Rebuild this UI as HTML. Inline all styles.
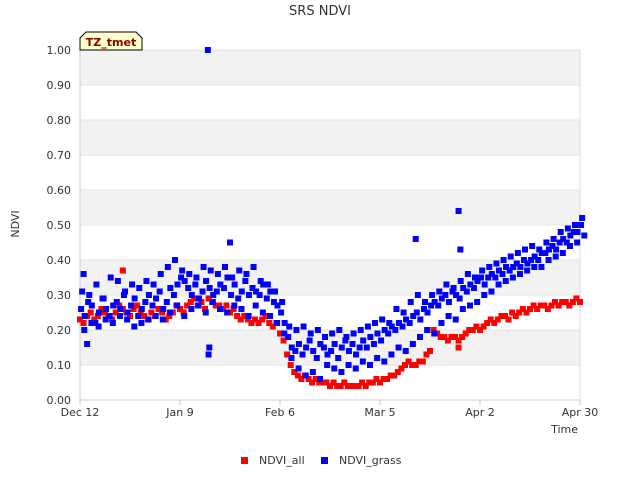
<!DOCTYPE html>
<html><head><meta charset="utf-8"><style>
body{margin:0;background:#fff;font-family:"Liberation Sans","DejaVu Sans",sans-serif}
svg text{font-family:"DejaVu Sans","Liberation Sans",sans-serif}
</style></head><body>
<svg id="chart" width="640" height="480">
<text x="320" y="15" text-anchor="middle" font-size="13" fill="#333">SRS NDVI</text>
<g id="bands"></g><g id="axes"></g><g id="marks"></g>
<text x="19" y="224" text-anchor="middle" font-size="11" fill="#333" transform="rotate(-90 19 224)">NDVI</text>
<text x="578" y="433" text-anchor="end" font-size="11" fill="#333">Time</text>
<g>
<path d="M80,50 L80,38 L86,32 L136,32 L142,38 L142,50 Z" fill="#ffffcc" stroke="#000" stroke-width="1"/>
<text x="111" y="46" text-anchor="middle" font-size="11" font-weight="bold" fill="#8b0000">TZ_tmet</text></g>
<g>
<g><rect x="241" y="457" width="7" height="7" fill="#ff0000"/><text x="259" y="464" font-size="11" fill="#333">NDVI_all</text></g>
<g><rect x="321" y="457" width="7" height="7" fill="#0000ff"/><text x="339" y="464" font-size="11" fill="#333">NDVI_grass</text></g>
</g>
</svg>
<script>
const xTickLabels=["Dec 12","Jan 9","Feb 6","Mar 5","Apr 2","Apr 30"];
const xTickDays=[0,28,56,84,112,140];
const yTicks=[0,0.1,0.2,0.3,0.4,0.5,0.6,0.7,0.8,0.9,1.0];
const allDaily=[.23,.22,.24,.25,.23,.24,.26,.25,.24,.23,.25,.27,.26,.25,.24,.26,.27,.25,.24,.23,.25,.24,.26,.25,.23,.24,.25,.27,.26,.25,.27,.28,.29,.27,.28,.26,.29,.28,.27,.27,.26,.27,.25,.26,.24,.23,.24,.23,.22,.23,.22,.23,.24,.22,.21,.22,.19,.17,.13,.10,.08,.07,.06,.07,.06,.05,.06,.05,.05,.05,.04,.05,.04,.04,.05,.04,.04,.04,.04,.05,.04,.05,.05,.06,.05,.06,.06,.07,.07,.08,.09,.10,.11,.10,.10,.11,.11,.13,.14,.20,.19,.18,.18,.17,.18,.18,.17,.18,.19,.20,.20,.21,.20,.21,.22,.23,.22,.23,.24,.24,.23,.25,.24,.25,.26,.25,.26,.27,.26,.27,.27,.26,.27,.28,.27,.28,.28,.27,.28,.29,.28];
const grassMid=[.26,.24,.28,.27,.22,.25,.29,.26,.24,.27,.28,.26,.30,.25,.27,.29,.24,.26,.28,.30,.27,.29,.31,.26,.28,.32,.30,.33,.35,.34,.32,.30,.33,.29,.31,.34,.32,.30,.31,.33,.32,.35,.30,.33,.29,.31,.34,.30,.32,.31,.30,.33,.29,.31,.28,.27,.25,.22,.18,.15,.14,.16,.13,.15,.17,.14,.12,.16,.15,.13,.14,.16,.12,.15,.17,.14,.16,.13,.15,.17,.15,.18,.16,.19,.17,.20,.19,.21,.20,.22,.21,.23,.22,.24,.25,.23,.26,.25,.27,.28,.27,.29,.30,.28,.31,.30,.29,.32,.31,.33,.32,.34,.35,.33,.35,.36,.35,.37,.36,.38,.37,.38,.39,.38,.40,.39,.40,.41,.40,.42,.42,.43,.44,.43,.45,.46,.45,.47,.48,.48,.50];
const grassHi2=[.31,.30,.33,.29,.35,.34,.31,.33,.32,.34,.33,.36,.38,.40,.37,.36,.35,.38,.37,.36,.38,.35,.37,.36,.38,.34,.33,.31,.28,.21,.20,.21,.19,.20,.18,.19,.20,.18,.19,.20,.21,.22,.23,.22,.26,.25,.28,.30,.28,.30,.31,.33,.32,.34,.36,.35,.37,.38,.39,.40,.41,.42,.43,.44,.43,.45,.46,.48,.49,.50,.52];
const grassLo2=[.20,.22,.21,.23,.22,.24,.23,.21,.22,.23,.24,.23,.25,.27,.24,.26,.27,.25,.28,.26,.25,.27,.26,.24,.27,.25,.24,.22,.19,.12,.09,.07,.08,.06,.10,.09,.08,.10,.09,.11,.10,.12,.11,.13,.15,.14,.16,.18,.20,.19,.22,.24,.23,.26,.27,.28,.30,.31,.33,.34,.35,.36,.37,.38,.38,.40,.41,.42,.44,.45,.47];
const grassOutDays=[35.8,36,36.2,42,94,106,106.5,1,2];
const grassOutVals=[1.00,0.13,0.15,0.45,0.46,0.54,0.43,0.36,0.16];
const allOutDays=[12,106];
const allOutVals=[0.37,0.15];
const NS="http://www.w3.org/2000/svg";
const X0=80,X1=580,Y0=400,Y1=50;
const xs=d=>X0+d*(X1-X0)/140;
const ys=v=>Y0-v*(Y0-Y1);
function mk(t,a,p){const e=document.createElementNS(NS,t);for(const k in a)e.setAttribute(k,a[k]);p.appendChild(e);return e;}
const bands=document.getElementById('bands'),axes=document.getElementById('axes'),marks=document.getElementById('marks');
mk('rect',{x:X0,y:Y1,width:X1-X0,height:Y0-Y1,fill:'#fff'},bands);
for(let i=1;i<10;i+=2){const r=mk('rect',{x:X0,y:ys(yTicks[i+1]),width:X1-X0,height:ys(yTicks[i])-ys(yTicks[i+1]),fill:'#f2f2f2'},bands);

}
yTicks.forEach(v=>{mk('line',{x1:X0,x2:X1,y1:ys(v),y2:ys(v),stroke:'#e6e6e6'},axes);
const t=mk('text',{x:X0-9,y:ys(v)+4,'text-anchor':'end','font-size':11,fill:'#333'},axes);t.textContent=v.toFixed(2);

});
mk('line',{x1:X1,x2:X1,y1:Y1,y2:Y0,stroke:'#ddd'},axes);
mk('line',{x1:X0,x2:X0,y1:Y1,y2:Y0,stroke:'#ccc'},axes);
mk('line',{x1:X0,x2:X1,y1:Y0,y2:Y0,stroke:'#ccc'},axes);
xTickDays.forEach((d,i)=>{mk('line',{x1:xs(d),x2:xs(d),y1:Y0,y2:Y0+5,stroke:'#ccc'},axes);
const t=mk('text',{x:xs(d),y:Y0+16,'text-anchor':'middle','font-size':11,fill:'#333'},axes);t.textContent=xTickLabels[i];

});
function pt(d,v,c,name){const r=mk('rect',{x:xs(d)-3,y:ys(v)-3,width:6,height:6,fill:c},marks);

}
allDaily.forEach((v,i)=>pt(i,v,'#ff0000','point-ndvi-all'));
allOutDays.forEach((d,i)=>pt(d,allOutVals[i],'#ff0000','point-ndvi-all'));
grassMid.forEach((v,i)=>pt(i+0.3,v,'#0000ff','point-ndvi-grass'));
grassHi2.forEach((v,i)=>pt(i*2+0.6,v,'#0000ff','point-ndvi-grass'));
grassLo2.forEach((v,i)=>pt(i*2+1.2,v,'#0000ff','point-ndvi-grass'));
grassOutDays.forEach((d,i)=>pt(d,grassOutVals[i],'#0000ff','point-ndvi-grass'));
</script>
</body></html>
